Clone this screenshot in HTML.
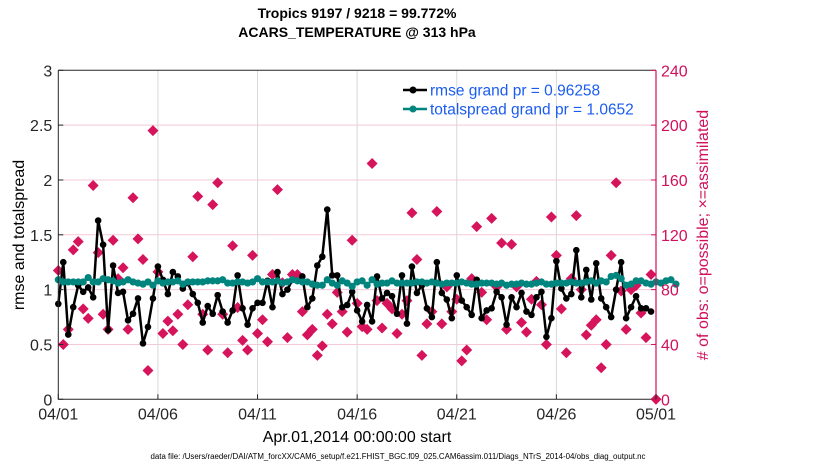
<!DOCTYPE html>
<html><head><meta charset="utf-8"><style>
body{margin:0;background:#fff;width:830px;height:470px;overflow:hidden}
svg text{font-family:"Liberation Sans",Arial,sans-serif}
</style></head><body>
<svg id="c" width="830" height="470">
<text x="357" y="18" text-anchor="middle" font-size="14" font-weight="bold">Tropics 9197 / 9218 = 99.772%</text>
<text x="357" y="37" text-anchor="middle" font-size="14" font-weight="bold">ACARS_TEMPERATURE @ 313 hPa</text>
<text x="357" y="442" text-anchor="middle" font-size="16">Apr.01,2014 00:00:00 start</text>
<text x="398" y="459" text-anchor="middle" font-size="7.9">data file: /Users/raeder/DAI/ATM_forcXX/CAM6_setup/f.e21.FHIST_BGC.f09_025.CAM6assim.011/Diags_NTrS_2014-04/obs_diag_output.nc</text>
<text transform="translate(24,235) rotate(-90)" text-anchor="middle" font-size="16">rmse and totalspread</text>
<text transform="translate(708,235) rotate(-90)" text-anchor="middle" font-size="16" fill="#d0105a"># of obs: o=possible; ×=assimilated</text>
<g id="grid"></g><g id="marks"></g><g id="axes"></g>
</svg>
<script>
const xTicks=["04/01","04/06","04/11","04/16","04/21","04/26","05/01"];
const xTickDays=[0,5,10,15,20,25,30];
const yTicks=[0,0.5,1,1.5,2,2.5,3];
const y2Ticks=[0,40,80,120,160,200,240];
const rmse=[0.87,1.25,0.59,0.84,1.04,0.98,1.02,0.93,1.63,1.41,0.63,1.22,0.97,0.98,0.72,0.78,0.92,0.51,0.66,0.92,1.21,1.09,0.96,1.16,1.12,1.01,1.06,0.96,0.88,0.70,0.85,0.78,0.95,0.80,0.70,0.81,1.13,0.83,0.68,0.83,0.88,0.88,1.08,0.84,1.16,0.96,1.00,1.09,1.08,1.12,0.84,0.92,1.22,1.30,1.73,1.13,1.13,0.84,0.86,0.98,0.81,0.71,0.86,0.71,1.12,0.92,0.97,0.94,0.78,1.13,0.69,1.21,0.97,1.04,0.83,0.75,1.25,0.97,0.91,0.74,1.13,0.90,0.84,0.77,1.09,0.74,0.81,0.83,0.98,0.93,0.68,0.93,0.84,0.97,0.80,0.77,0.93,0.98,0.57,0.74,1.26,1.01,0.92,0.96,1.36,0.93,1.18,0.91,1.24,0.92,0.84,0.75,1.00,1.25,0.74,0.84,0.94,0.83,0.83,0.80];
const spread=[1.09,1.07,1.07,1.07,1.07,1.07,1.11,1.07,1.07,1.10,1.09,1.08,1.06,1.07,1.09,1.07,1.06,1.05,1.07,1.04,1.08,1.06,1.07,1.07,1.08,1.05,1.07,1.07,1.07,1.07,1.08,1.08,1.08,1.09,1.06,1.06,1.07,1.07,1.06,1.07,1.10,1.07,1.07,1.07,1.08,1.06,1.07,1.09,1.08,1.07,1.07,1.05,1.04,1.04,1.09,1.06,1.04,1.08,1.06,1.03,1.07,1.08,1.04,1.09,1.05,1.06,1.06,1.08,1.06,1.06,1.06,1.06,1.07,1.07,1.06,1.07,1.06,1.05,1.06,1.06,1.06,1.07,1.06,1.05,1.05,1.06,1.06,1.06,1.05,1.06,1.04,1.05,1.05,1.06,1.05,1.05,1.06,1.07,1.05,1.05,1.06,1.06,1.06,1.07,1.06,1.06,1.07,1.08,1.06,1.08,1.07,1.12,1.13,1.10,1.04,1.05,1.08,1.08,1.06,1.05,1.07,1.06,1.08,1.09,1.05];
const obs=[94,40,51,109,115,66,59,156,107,62,51,116,88,96,51,147,117,102,21,196,93,48,57,50,62,40,69,104,148,62,36,142,158,62,34,112,67,43,36,105,48,58,42,91,153,85,45,91,91,64,47,51,32,39,62,55,78,64,49,116,70,53,51,172,72,52,70,66,48,62,72,136,102,32,55,64,137,55,82,64,73,28,36,88,126,78,58,132,82,114,51,113,82,56,49,73,86,69,40,133,105,66,34,88,134,80,47,54,58,23,40,105,158,79,51,80,83,63,45,91,0];
const L=58.3,R=656,T=70.3,B=399.3,NS="http://www.w3.org/2000/svg";
const xs=d=>L+(R-L)*d/30, ys=v=>B-(B-T)*v/3, ys2=v=>B-(B-T)*v/240;
function mk(tag,at,p){const e=document.createElementNS(NS,tag);for(const k in at)e.setAttribute(k,at[k]);p.appendChild(e);return e;}
const grid=document.getElementById('grid'),marks=document.getElementById('marks'),axes=document.getElementById('axes');
yTicks.forEach(v=>{if(v>0&&v<3){const g=mk('line',{x1:L,x2:R,y1:ys(v),y2:ys(v),stroke:'#f6c9d8','stroke-width':1},grid);

}});
xTickDays.forEach(d=>{if(d>0&&d<30){const g=mk('line',{x1:xs(d),x2:xs(d),y1:T,y2:B,stroke:'#d8d8d8','stroke-width':1},grid);

}});
obs.forEach((c,i)=>{const x=xs(i*0.25),y=ys2(c);const p=mk('path',{d:`M${x} ${y-5.5}L${x+5.5} ${y}L${x} ${y+5.5}L${x-5.5} ${y}Z`,fill:'#d5145c'},marks);

});
function series(arr,col,r,name){const pts=arr.map((v,i)=>xs(i*0.25)+','+ys(v)).join(' ');
const pl=mk('polyline',{points:pts,fill:'none',stroke:col,'stroke-width':2.5,'stroke-linejoin':'round'},marks);


arr.forEach((v,i)=>{const c=mk('circle',{cx:xs(i*0.25),cy:ys(v),r:r,fill:col},marks);

});}
series(rmse,'#000',3.3,'rmse');
series(spread,'#00847e',3.6,'totalspread');
mk('path',{d:`M${L} ${T}V${B}H${R}`,fill:'none',stroke:'#262626','stroke-width':1},axes);
mk('line',{x1:L,x2:R,y1:T,y2:T,stroke:'#262626'},axes);
mk('line',{x1:R,x2:R,y1:T,y2:B,stroke:'#d0105a','stroke-width':1.2},axes);
yTicks.forEach(v=>{mk('line',{x1:L,x2:L+5,y1:ys(v),y2:ys(v),stroke:'#262626'},axes);
const t=mk('text',{x:L-6,y:ys(v)+6,'text-anchor':'end','font-size':16,fill:'#262626'},axes);t.textContent=v;

});
y2Ticks.forEach(v=>{mk('line',{x1:R-5,x2:R,y1:ys2(v),y2:ys2(v),stroke:'#d0105a'},axes);
const t=mk('text',{x:R+5,y:ys2(v)+6,'font-size':16,fill:'#d0105a'},axes);t.textContent=v;

});
xTicks.forEach((s,i)=>{const x=xs(xTickDays[i]);mk('line',{x1:x,x2:x,y1:B-5,y2:B,stroke:'#262626'},axes);
const t=mk('text',{x:x,y:B+20,'text-anchor':'middle','font-size':16,fill:'#262626'},axes);t.textContent=s;

});
[['rmse grand pr = 0.96258','#000',90],['totalspread grand pr = 1.0652','#00847e',109]].forEach(([s,c,y])=>{
mk('line',{x1:403,x2:427,y1:y,y2:y,stroke:c,'stroke-width':2.5},axes);
mk('circle',{cx:413,cy:y,r:3.5,fill:c},axes);
const t=mk('text',{x:430,y:y+5.5,'font-size':15.5,fill:'#1a5cf0'},axes);t.textContent=s;

});
</script>
</body></html>
